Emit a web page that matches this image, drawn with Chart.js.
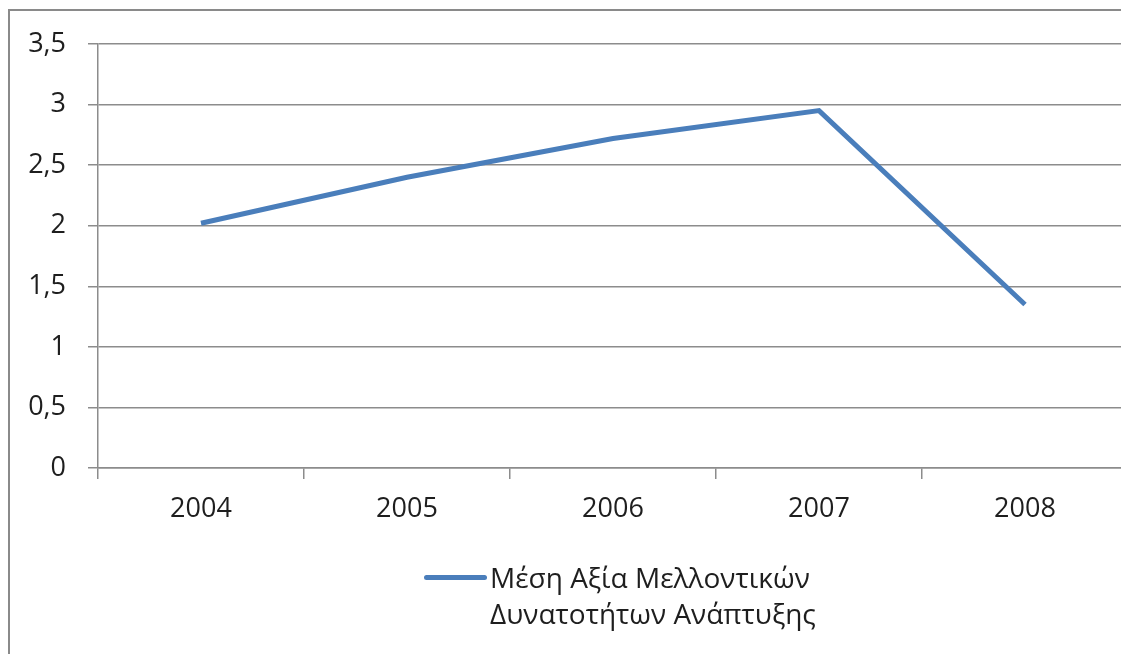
<!DOCTYPE html>
<html>
<head>
<meta charset="utf-8">
<script src="https://cdn.jsdelivr.net/npm/chart.js@4.4.0/dist/chart.umd.min.js"></script>
<style>
    html, body { margin: 0; padding: 0; background: #fff; overflow: hidden; }
    #frame {
        position: absolute; left: 8px; top: 9px; right: 0; bottom: 0;
        border-left: 2px solid #8a8a8a; border-top: 2px solid #8a8a8a;
    }
    #wrap { position: absolute; left: 0; top: 0; width: 1140px; height: 654px; }
    #legend {
        position: absolute; left: 424px; top: 559px;
        font-family: 'Open Sans', 'Noto Sans', sans-serif;
        font-size: 28px; line-height: 36px; color: #1e1e1e;
    }
    #legend .item { display: flex; align-items: flex-start; }
    #legend .swatch {
        width: 63px; height: 5px; margin-top: 16px; margin-right: 3px;
        border-radius: 3px; flex: none;
    }
</style>
</head>
<body>
<div id="frame"></div>
<div id="wrap"><canvas id="lineChart"></canvas></div>
<div id="legend"></div>
<script>
const years = ["2004", "2005", "2006", "2007", "2008"];
const meanValues = [2.02, 2.40, 2.72, 2.95, 1.35];
const seriesLabel = ["Μέση Αξία Μελλοντικών", "Δυνατοτήτων Ανάπτυξης"];
const yMin = 0;
const yMax = 3.5;
const yStep = 0.5;

const lineColor = "#4a7ebb";
const gridColor = "#8c8c8c";
const textColor = "#1e1e1e";
const fontFamily = "'Open Sans', 'Noto Sans', sans-serif";

Chart.defaults.font.family = fontFamily;
Chart.defaults.color = textColor;

const ctx = document.getElementById("lineChart").getContext("2d");

const chart = new Chart(ctx, {
    type: "line",
    data: {
        labels: years,
        datasets: [{
            label: seriesLabel.join(" "),
            data: meanValues,
            borderColor: lineColor,
            backgroundColor: lineColor,
            borderWidth: 5,
            tension: 0,
            pointRadius: 0,
            pointHoverRadius: 0,
            fill: false
        }]
    },
    options: {
        responsive: true,
        maintainAspectRatio: false,
        animation: false,
        layout: {
            padding: { left: 0, right: 12, top: 44, bottom: 102 }
        },
        plugins: {
            tooltip: { enabled: false },
            legend: { display: false }
        },
        scales: {
            x: {
                offset: true,
                afterFit: axis => { axis.height = 84; },
                grid: {
                    offset: true,
                    drawOnChartArea: false,
                    drawTicks: true,
                    tickLength: 11,
                    color: gridColor,
                    lineWidth: 1.5
                },
                border: { display: true, color: gridColor, width: 1.5 },
                ticks: {
                    padding: 14,
                    font: { size: 27 },
                    color: textColor,
                    maxRotation: 0
                }
            },
            y: {
                min: yMin,
                max: yMax,
                afterFit: axis => { axis.width = 98; },
                grid: {
                    color: gridColor,
                    lineWidth: 1.5,
                    drawTicks: true,
                    tickLength: 10
                },
                border: { display: true, color: gridColor, width: 1.5 },
                ticks: {
                    stepSize: yStep,
                    padding: 22,
                    font: { size: 27 },
                    color: textColor,
                    callback: value => String(value).replace(".", ",")
                }
            }
        }
    }
});

// html legend, two-line label like the original
function buildLegend(c) {
    const box = document.getElementById("legend");
    box.innerHTML = "";
    c.data.datasets.forEach(ds => {
        const item = document.createElement("div");
        item.className = "item";
        const swatch = document.createElement("span");
        swatch.className = "swatch";
        swatch.style.background = ds.borderColor;
        const text = document.createElement("div");
        text.innerHTML = seriesLabel.join("<br>");
        item.appendChild(swatch);
        item.appendChild(text);
        box.appendChild(item);
    });
}

buildLegend(chart);
</script>
</body>
</html>
